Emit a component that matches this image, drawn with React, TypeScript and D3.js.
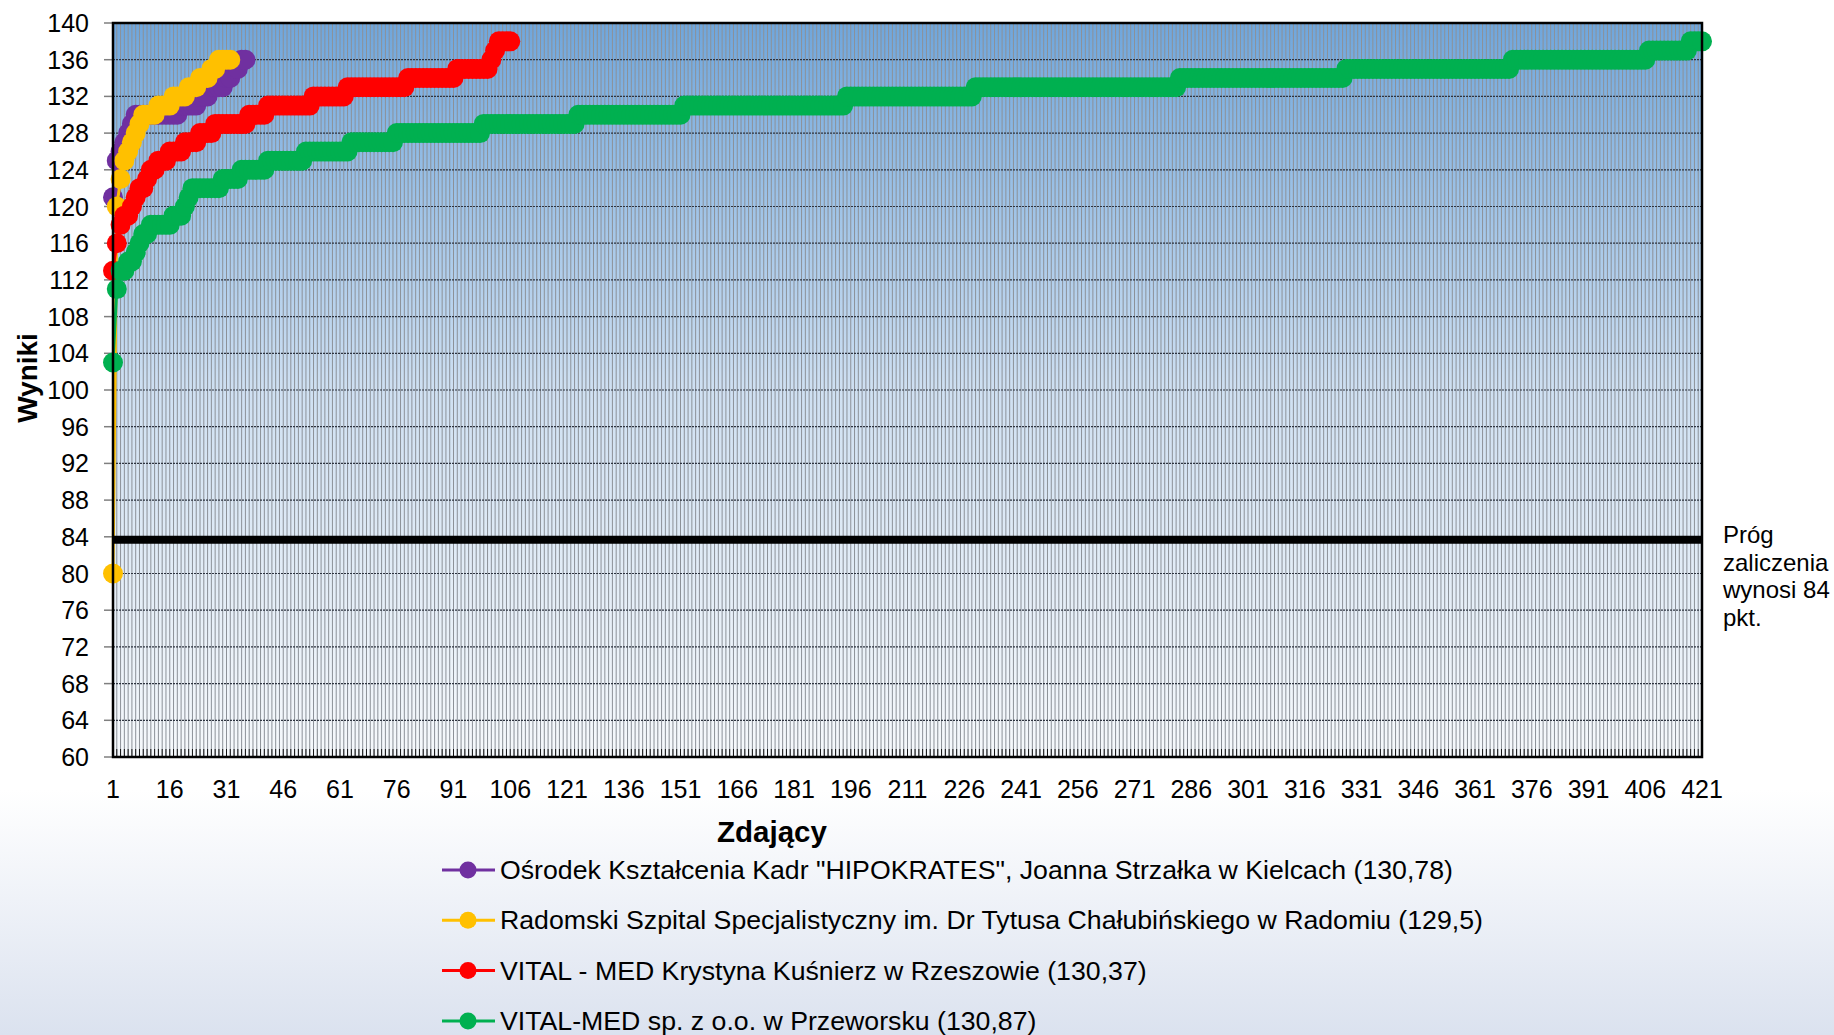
import React, { useEffect, useRef } from "react";
import * as d3 from "d3";

const W = 1834;
const H = 1035;
const plot = { left: 113, right: 1702, top: 23, bottom: 757 };

// scores are sorted per centre; each pair is [score, number of candidates with that score]
const hipokratesRuns: [number, number][] = [
  [121, 1], [125, 1], [126, 1], [127, 1], [128, 1], [129, 1], [130, 12], [131, 5],
  [132, 3], [133, 4], [134, 2], [135, 2], [136, 2],
];
const radomRuns: [number, number][] = [
  [80, 1], [120, 1], [123, 1], [125, 1], [126, 1], [127, 1], [128, 1], [129, 1],
  [130, 4], [131, 4], [132, 4], [133, 3], [134, 3], [135, 2], [136, 4],
];
const rzeszowRuns: [number, number][] = [
  [113, 1], [116, 1], [118, 1], [119, 2], [120, 1], [121, 1], [122, 2], [123, 1],
  [124, 2], [125, 3], [126, 4], [127, 4], [128, 4], [129, 9], [130, 5], [131, 12],
  [132, 9], [133, 16], [134, 13], [135, 9], [136, 1], [137, 1], [138, 4],
];
const przeworskRuns: [number, number][] = [
  [103, 1], [111, 1], [113, 2], [114, 2], [115, 1], [116, 1], [117, 2], [118, 6],
  [119, 3], [120, 1], [121, 1], [122, 8], [123, 5], [124, 7], [125, 10], [126, 12],
  [127, 12], [128, 23], [129, 25], [130, 28], [131, 43], [132, 34], [133, 54],
  [134, 44], [135, 44], [136, 36], [137, 11], [138, 4],
];

const seriesNames = [
  'Ośrodek Kształcenia Kadr "HIPOKRATES", Joanna Strzałka w Kielcach (130,78)',
  "Radomski Szpital Specjalistyczny im. Dr Tytusa Chałubińskiego w Radomiu (129,5)",
  "VITAL - MED Krystyna Kuśnierz w Rzeszowie (130,37)",
  "VITAL-MED sp. z o.o. w Przeworsku (130,87)",
];
const seriesColors = ["#7030a0", "#ffc000", "#ff0000", "#00b050"];
const seriesRuns = [hipokratesRuns, radomRuns, rzeszowRuns, przeworskRuns];

const threshold = 84;
const candidateCount = 421;
const yTicks = [60, 64, 68, 72, 76, 80, 84, 88, 92, 96, 100, 104, 108, 112, 116, 120, 124, 128, 132, 136, 140];
const xTickLabels = [
  1, 16, 31, 46, 61, 76, 91, 106, 121, 136, 151, 166, 181, 196, 211, 226, 241, 256,
  271, 286, 301, 316, 331, 346, 361, 376, 391, 406, 421,
];
const thresholdNote = ["Próg", "zaliczenia", "wynosi 84", "pkt."];

const FONT = "'Liberation Sans', Arial, sans-serif";

export default function App() {
  const ref = useRef<SVGSVGElement>(null);

  useEffect(() => {
    const svg = d3.select(ref.current);
    svg.selectAll("*").remove();

    const categories = d3.range(1, candidateCount + 1);
    const x = d3.scalePoint<number>().domain(categories).range([plot.left, plot.right]);
    const y = d3.scaleLinear().domain([60, 140]).range([plot.bottom, plot.top]);

    const defs = svg.append("defs");
    const pg = defs.append("linearGradient").attr("id", "plotFill")
      .attr("x1", 0).attr("y1", 0).attr("x2", 0).attr("y2", 1);
    pg.append("stop").attr("offset", "0%").attr("stop-color", "#6fa6dc");
    pg.append("stop").attr("offset", "50%").attr("stop-color", "#cfe0f2");
    pg.append("stop").attr("offset", "100%").attr("stop-color", "#f6f9fc");
    const bg = defs.append("linearGradient").attr("id", "pageFill")
      .attr("x1", 0).attr("y1", 0).attr("x2", 0).attr("y2", 1);
    bg.append("stop").attr("offset", "0%").attr("stop-color", "#ffffff");
    bg.append("stop").attr("offset", "100%").attr("stop-color", "#dbe2ef");

    // slide background
    svg.append("rect").attr("width", W).attr("height", H).attr("fill", "#fff");
    svg.append("rect").attr("y", 790).attr("width", W).attr("height", H - 790).attr("fill", "url(#pageFill)");

    // plot area
    svg.append("rect")
      .attr("x", plot.left).attr("y", plot.top)
      .attr("width", plot.right - plot.left).attr("height", plot.bottom - plot.top)
      .attr("fill", "url(#plotFill)");

    // one vertical gridline per candidate
    svg.append("g").selectAll("line").data(categories).join("line")
      .attr("x1", d => x(d)!).attr("x2", d => x(d)!)
      .attr("y1", plot.top).attr("y2", plot.bottom)
      .attr("stroke", "#8c9198").attr("stroke-width", 1);

    svg.append("g").selectAll("line").data(yTicks.slice(1, -1)).join("line")
      .attr("x1", plot.left).attr("x2", plot.right)
      .attr("y1", d => y(d)).attr("y2", d => y(d))
      .attr("stroke", "#2e3440").attr("stroke-width", 1.2).attr("stroke-dasharray", "2,1");

    // x tick marks (inside)
    svg.append("g").selectAll("line").data(categories).join("line")
      .attr("x1", d => x(d)!).attr("x2", d => x(d)!)
      .attr("y1", plot.bottom - 8).attr("y2", plot.bottom)
      .attr("stroke", "#111").attr("stroke-width", 1);

    // y tick marks (outside)
    svg.append("g").selectAll("line").data(yTicks).join("line")
      .attr("x1", plot.left - 9).attr("x2", plot.left)
      .attr("y1", d => y(d)).attr("y2", d => y(d))
      .attr("stroke", "#7f7f7f").attr("stroke-width", 1.5);

    // series
    const line = d3.line<{ c: number; v: number }>().x(d => x(d.c)!).y(d => y(d.v));
    seriesRuns.forEach((runs, si) => {
      const values = runs.flatMap(([v, n]) => Array(n).fill(v) as number[]);
      const pts = values.map((v, i) => ({ c: i + 1, v }));
      const g = svg.append("g");
      g.append("path").datum(pts).attr("d", line)
        .attr("fill", "none").attr("stroke", seriesColors[si]).attr("stroke-width", 3);
      g.selectAll("circle").data(pts).join("circle")
        .attr("cx", d => x(d.c)!).attr("cy", d => y(d.v)).attr("r", 10)
        .attr("fill", seriesColors[si]);
    });

    // pass threshold
    svg.append("line")
      .attr("x1", x(1)!).attr("x2", x(candidateCount)!)
      .attr("y1", y(threshold) + 3).attr("y2", y(threshold) + 3)
      .attr("stroke", "#000").attr("stroke-width", 8);

    // border
    svg.append("rect")
      .attr("x", plot.left).attr("y", plot.top)
      .attr("width", plot.right - plot.left).attr("height", plot.bottom - plot.top)
      .attr("fill", "none").attr("stroke", "#000").attr("stroke-width", 2.5);

    // axis labels
    svg.append("g").selectAll("text").data(yTicks).join("text")
      .attr("x", 89).attr("y", d => y(d)).attr("dy", "0.36em")
      .attr("text-anchor", "end").attr("font-family", FONT).attr("font-size", 25)
      .text(d => d);

    svg.append("g").selectAll("text").data(xTickLabels).join("text")
      .attr("x", d => x(d)!).attr("y", 798)
      .attr("text-anchor", "middle").attr("font-family", FONT).attr("font-size", 25)
      .text(d => d);

    svg.append("text")
      .attr("x", 772).attr("y", 842).attr("text-anchor", "middle")
      .attr("font-family", FONT).attr("font-size", 29.5).attr("font-weight", "bold")
      .text("Zdający");

    svg.append("text")
      .attr("transform", "translate(37,378) rotate(-90)").attr("text-anchor", "middle")
      .attr("font-family", FONT).attr("font-size", 28).attr("font-weight", "bold")
      .text("Wyniki");

    svg.append("g").selectAll("text").data(thresholdNote).join("text")
      .attr("x", 1723).attr("y", (d, i) => 543 + i * 27.5)
      .attr("font-family", FONT).attr("font-size", 24)
      .text(d => d);

    // legend
    const lg = svg.append("g").selectAll("g").data(seriesNames).join("g")
      .attr("transform", (d, i) => `translate(0,${870 + i * 50.3})`);
    lg.append("line").attr("x1", 442).attr("x2", 495).attr("y1", 0).attr("y2", 0)
      .attr("stroke", (d, i) => seriesColors[i]).attr("stroke-width", 3);
    lg.append("circle").attr("cx", 468).attr("cy", 0).attr("r", 8.5)
      .attr("fill", (d, i) => seriesColors[i]);
    lg.append("text").attr("x", 500).attr("y", 0).attr("dy", "0.34em")
      .attr("font-family", FONT).attr("font-size", 26.7)
      .text(d => d);
  }, []);

  return (
    <svg ref={ref} width={W} height={H} style={{ position: "absolute", left: 0, top: 0 }} />
  );
}
